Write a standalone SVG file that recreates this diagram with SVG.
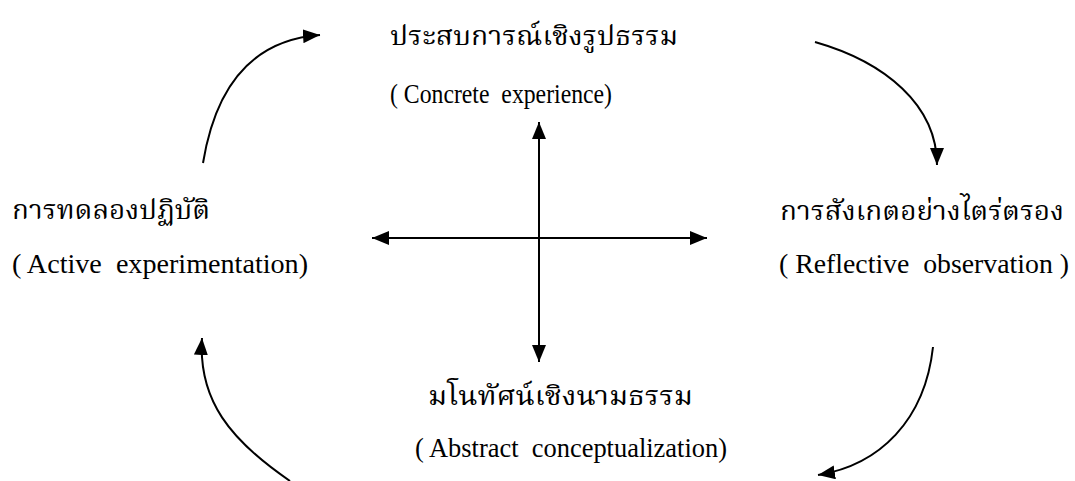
<svg xmlns="http://www.w3.org/2000/svg" width="1075" height="481" viewBox="0 0 1075 481">
<style>
.th{font-family:"Norasi","Kinnari","Noto Serif Thai","Liberation Serif","Noto Sans CJK SC",serif;font-size:27.5px;fill:#000}
.en{font-family:"Liberation Serif","Times New Roman",serif;font-size:28px;fill:#000}
.c{fill:none;stroke:#000;stroke-width:2}
</style>
<defs>
<marker id="big" viewBox="0 0 10 10" refX="10" refY="5" markerWidth="17" markerHeight="14" markerUnits="userSpaceOnUse" orient="auto" preserveAspectRatio="none">
<path d="M0,0 L10,5 L0,10 z" fill="#000"/>
</marker>
</defs>
<rect width="1075" height="481" fill="#fff"/>
<g id="concrete">
<text class="th" x="390" y="45" textLength="288" lengthAdjust="spacingAndGlyphs">ประสบการณ์เชิงรูปธรรม</text>
<text class="en" x="390" y="103" textLength="222" lengthAdjust="spacingAndGlyphs" xml:space="preserve">( Concrete  experience)</text>
</g>
<g id="active">
<text class="th" x="12" y="219" textLength="198" lengthAdjust="spacingAndGlyphs">การทดลองปฏิบัติ</text>
<text class="en" x="12" y="273" textLength="296" lengthAdjust="spacingAndGlyphs" xml:space="preserve">( Active  experimentation)</text>
</g>
<g id="reflective">
<text class="th" x="780" y="220" textLength="284" lengthAdjust="spacingAndGlyphs">การสังเกตอย่างไตร่ตรอง</text>
<text class="en" x="779" y="273" textLength="290" lengthAdjust="spacingAndGlyphs" xml:space="preserve">( Reflective  observation )</text>
</g>
<g id="abstract">
<text class="th" x="428" y="405" textLength="265" lengthAdjust="spacingAndGlyphs">มโนทัศน์เชิงนามธรรม</text>
<text class="en" x="415" y="457" textLength="312" lengthAdjust="spacingAndGlyphs" xml:space="preserve">( Abstract  conceptualization)</text>
</g>
<g id="connectors">
<path class="c" marker-end="url(#big)" d="M203,163 C215,90 250,40 320,35"/>
<path class="c" marker-end="url(#big)" d="M815,42 C885,62 937,105 937,165"/>
<path class="c" marker-end="url(#big)" d="M933,347 C925,420 880,465 818,475"/>
<path class="c" marker-end="url(#big)" d="M290,481 C230,440 198,400 202,338"/>
<path class="c" marker-end="url(#big)" d="M540,238 L372,238"/>
<path class="c" marker-end="url(#big)" d="M540,238 L707,238"/>
<path class="c" marker-end="url(#big)" d="M539,240 L539,122"/>
<path class="c" marker-end="url(#big)" d="M539,236 L539,362"/>
</g>
</svg>
